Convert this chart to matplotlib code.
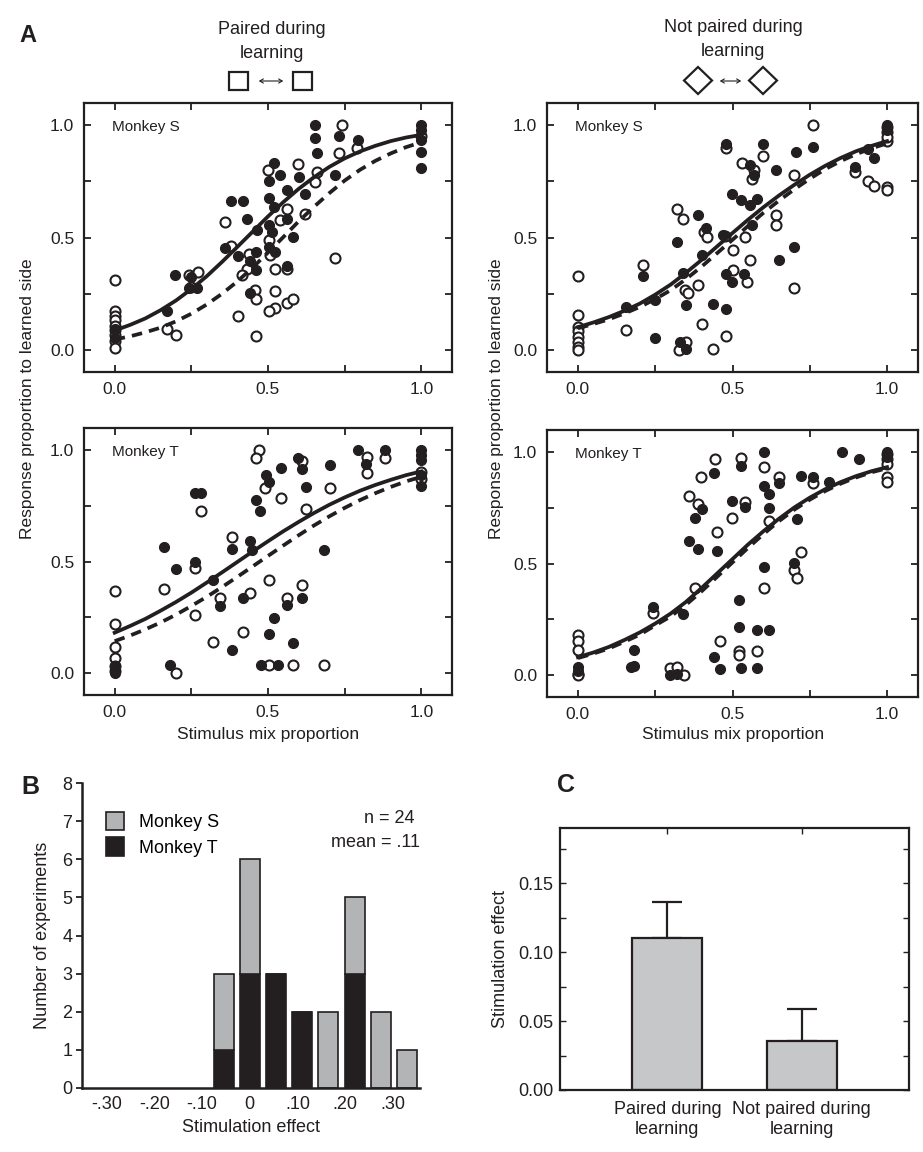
import matplotlib
matplotlib.use("Agg")
import matplotlib.pyplot as plt
from matplotlib.patches import Rectangle, Polygon, FancyArrowPatch
import numpy as np

plt.rcParams['font.family'] = ['Liberation Sans', 'DejaVu Sans']

# ---------------- data ----------------
curve_x = [0.0, 0.05, 0.1, 0.15, 0.2, 0.25, 0.3, 0.35, 0.4, 0.45, 0.5,
           0.55, 0.6, 0.65, 0.7, 0.75, 0.8, 0.85, 0.9, 0.95, 1.0]

# Panel A top-left: paired, Monkey S
tl_filled_x = [0.653, 0.653, 0.732, 0.792, 0.661, 0.521, 0.502, 0.54, 0.601, 0.72, 0.621, 0.561, 0.502, 0.38, 0.418,
               0.521, 0.561, 0.431, 0.502, 0.464, 0.513, 0.583, 0.361, 0.402, 0.502, 0.523, 0.462, 0.442, 0.462, 0.561,
               0.25, 0.198, 0.242, 0.269, 0.44, 0.171, 1.0, 1.0, 1.0, 1.0, 1.0, 0.0, 0.0]
tl_filled_y = [1.0, 0.943, 0.951, 0.933, 0.876, 0.832, 0.754, 0.777, 0.772, 0.78, 0.695, 0.71, 0.677, 0.665, 0.665,
               0.635, 0.583, 0.583, 0.557, 0.534, 0.524, 0.501, 0.454, 0.417, 0.457, 0.435, 0.435, 0.397, 0.353, 0.375,
               0.326, 0.333, 0.274, 0.274, 0.251, 0.17, 1.0, 0.978, 0.933, 0.881, 0.811, 0.09, 0.05]
tl_open_x = [0.74, 0.732, 0.789, 0.499, 0.599, 0.659, 0.653, 0.561, 0.54, 0.361, 0.621, 0.502, 0.38, 0.505, 0.439,
             0.431, 0.523, 0.561, 0.72, 0.415, 0.242, 0.271, 0.25, 0.458, 0.462, 0.523, 0.561, 0.583, 0.523, 0.502,
             0.402, 0.171, 0.2, 0.462, 0.0, 0.0, 0.0, 0.0, 0.0, 0.0, 0.0, 0.0, 0.0, 1.0]
tl_open_y = [1.0, 0.876, 0.9, 0.799, 0.826, 0.792, 0.747, 0.625, 0.576, 0.571, 0.606, 0.487, 0.46, 0.42, 0.427,
             0.36, 0.36, 0.36, 0.409, 0.333, 0.333, 0.348, 0.278, 0.266, 0.226, 0.263, 0.21, 0.226, 0.186, 0.17,
             0.149, 0.092, 0.065, 0.06, 0.311, 0.17, 0.149, 0.13, 0.107, 0.088, 0.065, 0.037, 0.007, 0.955]
tl_solid = [0.085, 0.110, 0.139, 0.176, 0.219, 0.270, 0.327, 0.391, 0.458, 0.526, 0.594,
            0.658, 0.717, 0.769, 0.815, 0.853, 0.884, 0.909, 0.930, 0.946, 0.958]
tl_dashed = [0.045, 0.059, 0.077, 0.098, 0.126, 0.160, 0.201, 0.249, 0.304, 0.366, 0.433,
             0.502, 0.572, 0.637, 0.698, 0.754, 0.802, 0.842, 0.875, 0.903, 0.925]

# Panel A top-right: not paired, Monkey S
tr_filled_x = [0.479, 0.598, 0.706, 0.76, 0.557, 0.568, 0.64, 0.497, 0.528, 0.578, 0.557, 0.389, 0.414, 0.319, 0.47,
               0.4, 0.341, 0.479, 0.497, 0.538, 0.649, 0.7, 0.209, 0.157, 0.249, 0.351, 0.438, 0.479, 0.249, 0.33,
               0.349, 0.562, 0.895, 0.938, 0.957, 1.0, 1.0]
tr_filled_y = [0.918, 0.918, 0.881, 0.903, 0.822, 0.777, 0.802, 0.695, 0.669, 0.673, 0.643, 0.602, 0.544, 0.48, 0.51,
               0.42, 0.342, 0.339, 0.302, 0.339, 0.401, 0.458, 0.327, 0.19, 0.223, 0.198, 0.205, 0.183, 0.053, 0.034,
               0.004, 0.554, 0.814, 0.896, 0.854, 1.0, 0.978]
tr_open_x = [0.76, 0.479, 0.598, 0.53, 0.562, 0.57, 0.7, 0.897, 0.938, 0.957, 1.0, 1.0, 1.0, 0.319, 0.341, 0.408,
             0.416, 0.476, 0.5, 0.541, 0.64, 0.64, 0.557, 0.5, 0.548, 0.7, 0.211, 0.346, 0.357, 0.389, 0.157, 0.4,
             0.479, 0.328, 0.351, 0.438, 0.0, 0.0, 0.0, 0.0, 0.0, 0.0, 0.0, 0.0, 1.0, 1.0, 1.0]
tr_open_y = [1.003, 0.9, 0.862, 0.832, 0.762, 0.8, 0.777, 0.792, 0.752, 0.73, 0.725, 0.71, 0.93, 0.626, 0.584, 0.525,
             0.502, 0.507, 0.446, 0.502, 0.602, 0.554, 0.401, 0.354, 0.302, 0.275, 0.376, 0.264, 0.253, 0.29, 0.089,
             0.113, 0.061, 0.0, 0.034, 0.004, 0.328, 0.153, 0.101, 0.083, 0.056, 0.034, 0.012, 0.0, 0.993, 0.97, 0.948]
tr_solid = [0.100, 0.121, 0.145, 0.173, 0.205, 0.245, 0.290, 0.343, 0.400, 0.460, 0.520,
            0.579, 0.635, 0.687, 0.735, 0.780, 0.820, 0.855, 0.885, 0.909, 0.930]
tr_dashed = [0.095, 0.114, 0.135, 0.161, 0.190, 0.225, 0.265, 0.315, 0.370, 0.430, 0.490,
             0.551, 0.610, 0.664, 0.715, 0.762, 0.805, 0.841, 0.872, 0.898, 0.920]

# Panel A bottom-left: paired, Monkey T
bl_filled_x = [0.792, 0.881, 0.821, 0.543, 0.599, 0.612, 0.702, 0.493, 0.504, 0.623, 0.261, 0.283, 0.462, 0.473,
               0.442, 0.447, 0.382, 0.684, 0.16, 0.2, 0.261, 0.321, 0.343, 0.42, 0.561, 0.612, 0.521, 0.502, 0.583,
               0.382, 0.179, 0.478, 0.531, 1.0, 1.0, 1.0, 1.0, 1.0, 0.0, 0.0]
bl_filled_y = [1.0, 1.0, 0.94, 0.921, 0.966, 0.915, 0.933, 0.888, 0.858, 0.833, 0.806, 0.81, 0.776, 0.727,
               0.59, 0.552, 0.555, 0.552, 0.563, 0.467, 0.5, 0.415, 0.299, 0.336, 0.306, 0.336, 0.246, 0.175, 0.134,
               0.101, 0.037, 0.034, 0.034, 1.0, 0.978, 0.955, 0.888, 0.839, 0.03, 0.0]
bl_open_x = [0.472, 0.462, 0.612, 0.824, 0.824, 0.881, 0.491, 0.702, 0.543, 0.283, 0.623, 0.382, 0.261, 0.16, 0.502,
             0.612, 0.442, 0.345, 0.561, 0.261, 0.42, 0.321, 0.2, 0.502, 0.583, 0.684, 0.0, 0.0, 0.0, 0.0, 0.0, 0.0,
             1.0, 1.0]
bl_open_y = [1.0, 0.963, 0.951, 0.97, 0.899, 0.963, 0.831, 0.831, 0.787, 0.727, 0.736, 0.612, 0.47, 0.376, 0.418,
             0.396, 0.358, 0.336, 0.336, 0.261, 0.184, 0.139, 0.0, 0.034, 0.034, 0.034, 0.366, 0.221, 0.115, 0.067,
             0.03, 0.007, 0.903, 0.873]
bl_solid = [0.180, 0.210, 0.242, 0.279, 0.318, 0.360, 0.405, 0.451, 0.498, 0.545, 0.591,
            0.636, 0.678, 0.718, 0.755, 0.788, 0.818, 0.844, 0.867, 0.888, 0.905]
bl_dashed = [0.142, 0.167, 0.195, 0.226, 0.261, 0.300, 0.341, 0.385, 0.431, 0.478, 0.525,
             0.572, 0.618, 0.662, 0.703, 0.741, 0.776, 0.807, 0.835, 0.860, 0.881]

# Panel A bottom-right: not paired, Monkey T
br_filled_x = [0.601, 0.854, 0.908, 0.529, 0.441, 0.601, 0.649, 0.72, 0.759, 0.811, 0.617, 0.498, 0.542, 0.619,
               0.401, 0.38, 0.709, 0.36, 0.39, 0.45, 0.7, 0.601, 0.52, 0.242, 0.34, 0.52, 0.579, 0.619, 0.18, 0.173,
               0.183, 0.439, 0.461, 0.529, 0.579, 0.299, 0.32, 0.0, 0.0, 1.0, 1.0]
br_filled_y = [1.003, 1.0, 0.97, 0.94, 0.907, 0.85, 0.862, 0.895, 0.888, 0.868, 0.813, 0.783, 0.753, 0.749,
               0.746, 0.704, 0.701, 0.603, 0.566, 0.554, 0.501, 0.484, 0.334, 0.304, 0.274, 0.214, 0.199, 0.202, 0.109,
               0.034, 0.039, 0.079, 0.027, 0.03, 0.03, 0.0, 0.004, 0.034, 0.019, 1.0, 0.978]
br_open_x = [0.442, 0.529, 0.601, 0.399, 0.649, 0.759, 0.36, 0.39, 0.542, 0.498, 0.619, 0.45, 0.722, 0.698, 0.709,
             0.601, 0.38, 0.242, 0.461, 0.52, 0.52, 0.579, 0.299, 0.32, 0.342, 0.0, 0.0, 0.0, 0.0, 0.0, 1.0, 1.0,
             1.0, 1.0, 1.0]
br_open_y = [0.97, 0.973, 0.933, 0.888, 0.891, 0.861, 0.805, 0.768, 0.778, 0.704, 0.693, 0.641, 0.551, 0.469, 0.434,
             0.391, 0.391, 0.278, 0.15, 0.105, 0.087, 0.105, 0.03, 0.034, 0.0, 0.177, 0.15, 0.109, 0.004, 0.0, 0.993,
             0.97, 0.948, 0.888, 0.865]
br_solid = [0.079, 0.100, 0.125, 0.156, 0.190, 0.230, 0.275, 0.328, 0.390, 0.455, 0.520,
            0.585, 0.645, 0.701, 0.752, 0.796, 0.834, 0.866, 0.893, 0.915, 0.933]
br_dashed = [0.075, 0.095, 0.118, 0.148, 0.180, 0.222, 0.262, 0.315, 0.375, 0.440, 0.505,
             0.570, 0.632, 0.690, 0.742, 0.787, 0.826, 0.859, 0.887, 0.910, 0.928]

# Panel B histogram
hist_bins = [-0.055, 0.0, 0.055, 0.11, 0.165, 0.22, 0.275, 0.33]
hist_monkey_t = [1, 3, 3, 2, 0, 3, 0, 0]
hist_monkey_s = [2, 3, 0, 0, 2, 2, 2, 1]
hist_ticks = [-0.30, -0.20, -0.10, 0.0, 0.10, 0.20, 0.30]
hist_ticklabels = ['-.30', '-.20', '-.10', '0', '.10', '.20', '.30']

# Panel C bars
c_labels = ['Paired during\nlearning', 'Not paired during\nlearning']
c_means = [0.110, 0.0355]
c_errs = [0.0265, 0.023]

# ---------------- layout ----------------
W, H = 923, 1152
fig = plt.figure(figsize=(W / 100, H / 100), dpi=100)


def rect(l, t, r, b):
    return [l / W, 1 - b / H, (r - l) / W, (b - t) / H]


def fpos(x, y):
    return (x / W, 1 - y / H)


INK = '#231f20'
panels = [
    (rect(84, 103, 452, 372), 'Monkey S', tl_filled_x, tl_filled_y, tl_open_x, tl_open_y, tl_solid, tl_dashed),
    (rect(547, 103, 918, 372), 'Monkey S', tr_filled_x, tr_filled_y, tr_open_x, tr_open_y, tr_solid, tr_dashed),
    (rect(84, 428, 452, 695), 'Monkey T', bl_filled_x, bl_filled_y, bl_open_x, bl_open_y, bl_solid, bl_dashed),
    (rect(547, 430, 918, 697), 'Monkey T', br_filled_x, br_filled_y, br_open_x, br_open_y, br_solid, br_dashed),
]

for pos, name, fx, fy, ox, oy, sol, das in panels:
    ax = fig.add_axes(pos)
    ax.plot(ox, oy, 'o', ms=7.2, mfc='white', mec=INK, mew=1.5, ls='none', zorder=2)
    ax.plot(fx, fy, 'o', ms=7.2, mfc=INK, mec=INK, mew=0.8, ls='none', zorder=3)
    ax.plot(curve_x, das, color=INK, lw=2.7, ls=(0, (2.8, 1.9)), zorder=4)
    ax.plot(curve_x, sol, color=INK, lw=2.7, zorder=5, solid_joinstyle='round')
    ax.set_xlim(-0.1, 1.1)
    ax.set_ylim(-0.1, 1.1)
    ax.set_xticks([0.0, 0.5, 1.0])
    ax.set_xticklabels(['0.0', '0.5', '1.0'])
    ax.set_yticks([0.0, 0.5, 1.0])
    ax.set_yticklabels(['0.0', '0.5', '1.0'])
    ax.set_xticks([0.25, 0.75], minor=True)
    ax.set_yticks([0.25, 0.75], minor=True)
    ax.tick_params(which='both', direction='in', top=True, right=True, length=5, width=1.3,
                   color=INK, labelsize=12.5, labelcolor=INK, pad=7)
    for s in ax.spines.values():
        s.set_linewidth(1.6)
        s.set_color(INK)
    ax.text(0.076, 0.91, name, transform=ax.transAxes, fontsize=11, color=INK, ha='left', va='center')

# column labels
for x in (28, 497):
    fig.text(*fpos(x, 399), 'Response proportion to learned side', rotation=90, fontsize=12.5,
             color=INK, ha='center', va='center')
fig.text(*fpos(268, 734), 'Stimulus mix proportion', fontsize=12.5, color=INK, ha='center', va='center')
fig.text(*fpos(733, 734), 'Stimulus mix proportion', fontsize=12.5, color=INK, ha='center', va='center')

# headers
fig.text(*fpos(272, 29), 'Paired during', fontsize=13, color=INK, ha='center', va='center')
fig.text(*fpos(272, 53), 'learning', fontsize=13, color=INK, ha='center', va='center')
fig.text(*fpos(733, 28), 'Not paired during', fontsize=13, color=INK, ha='center', va='center')
fig.text(*fpos(733, 52), 'learning', fontsize=13, color=INK, ha='center', va='center')
fig.text(*fpos(28, 35), 'A', fontsize=17, fontweight='bold', color=INK, ha='center', va='center')

# header icons (figure pixel coordinates)
for cx in (238.5, 302.5):
    x0, y0 = fpos(cx - 9.5, 90)
    fig.patches.append(Rectangle((x0, y0), 19 / W, 18 / H, transform=fig.transFigure,
                                 fill=False, ec=INK, lw=1.6))
for cx in (698, 763):
    pts = [fpos(cx, 67), fpos(cx + 14, 80.5), fpos(cx, 94), fpos(cx - 14, 80.5)]
    fig.patches.append(Polygon(pts, closed=True, transform=fig.transFigure, fill=False, ec=INK, lw=1.6))
for x1, x2 in ((256, 286), (717, 744)):
    fig.patches.append(FancyArrowPatch(fpos(x1, 81), fpos(x2, 81), transform=fig.transFigure,
                                       arrowstyle='<->,head_length=2.5,head_width=1.5', lw=0.8,
                                       color=INK, mutation_scale=1))

# ---------------- Panel B ----------------
axb = fig.add_axes(rect(82, 783, 420, 1088))
bw = 0.042
axb.bar(hist_bins, hist_monkey_t, width=bw, color=INK, edgecolor=INK, lw=1.2, label='Monkey T', zorder=2)
axb.bar(hist_bins, hist_monkey_s, width=bw, bottom=hist_monkey_t, color='#b3b4b6', edgecolor=INK, lw=1.2,
        label='Monkey S', zorder=2)
axb.set_xlim(-0.352, 0.357)
axb.set_ylim(0, 8)
axb.set_yticks(range(0, 9))
axb.set_xticks(hist_ticks)
axb.set_xticklabels(hist_ticklabels)
axb.tick_params(axis='x', length=0, labelsize=13, labelcolor=INK, pad=6)
axb.tick_params(axis='y', direction='out', length=4, width=1.3, color=INK, labelsize=13, labelcolor=INK, pad=3)
for s in ('top', 'right'):
    axb.spines[s].set_visible(False)
for s in ('left', 'bottom'):
    axb.spines[s].set_linewidth(1.8)
    axb.spines[s].set_color(INK)
axb.set_xlabel('Stimulation effect', fontsize=13, color=INK, labelpad=4)
axb.set_ylabel('Number of experiments', fontsize=13, color=INK, labelpad=8)
h_s, l_s = axb.get_legend_handles_labels()
leg = axb.legend(h_s[::-1], l_s[::-1], loc='upper left', bbox_to_anchor=(0.05, 0.93), frameon=False,
                 fontsize=13, handlelength=1.0, handleheight=1.2, handletextpad=0.8, labelspacing=0.35,
                 borderaxespad=0)
axb.text(0.985, 0.882, 'n = 24', transform=axb.transAxes, ha='right', va='center', fontsize=13, color=INK)
axb.text(1.0, 0.805, 'mean = .11', transform=axb.transAxes, ha='right', va='center', fontsize=13, color=INK)
fig.text(*fpos(30, 787), 'B', fontsize=18, fontweight='bold', color=INK, ha='center', va='center')

# ---------------- Panel C ----------------
axc = fig.add_axes(rect(560, 828, 909, 1090))
xc = np.arange(len(c_means))
axc.bar(xc, c_means, width=0.52, color='#c6c7c9', edgecolor=INK, lw=1.6, zorder=2)
axc.errorbar(xc, c_means, yerr=[[0, 0], c_errs], fmt='none', ecolor=INK, elinewidth=1.6,
             capsize=11, capthick=1.6, zorder=1)
axc.set_xlim(-0.8, 1.8)
axc.set_ylim(0, 0.19)
axc.set_yticks([0.0, 0.05, 0.10, 0.15])
axc.set_yticklabels(['0.00', '0.05', '0.10', '0.15'])
axc.set_yticks([0.025, 0.075, 0.125, 0.175], minor=True)
axc.set_xticks(xc)
axc.set_xticklabels(c_labels)
axc.tick_params(axis='y', which='both', direction='in', right=True, length=4, width=1.0, color=INK,
                labelsize=13, labelcolor=INK, pad=5)
axc.tick_params(axis='x', direction='in', top=True, bottom=False, length=4, width=1.0, color=INK,
                labelsize=13, labelcolor=INK, pad=8)
for s in axc.spines.values():
    s.set_linewidth(1.6)
    s.set_color(INK)
axc.set_ylabel('Stimulation effect', fontsize=13, color=INK, labelpad=6)
fig.text(*fpos(566, 785), 'C', fontsize=18, fontweight='bold', color=INK, ha='center', va='center')

fig.savefig('out.png', dpi=100)
